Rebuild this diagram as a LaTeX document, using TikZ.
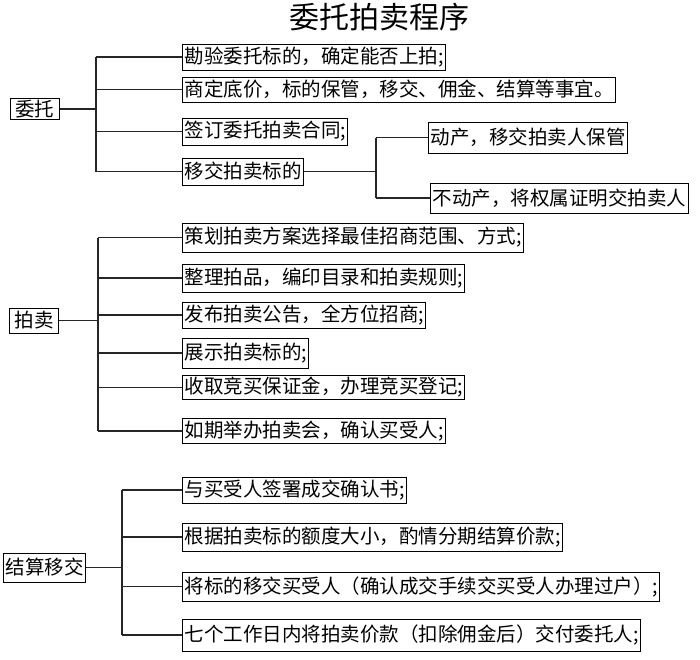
\documentclass[tikz,border=0pt]{standalone}
\usepackage{fontspec}
\setmainfont{Noto Sans CJK SC}
\usetikzlibrary{calc}

\begin{document}
\begin{tikzpicture}[x=1pt, y=-1pt,
    item/.style = {draw, line width=1pt, anchor=west, inner xsep=2pt, inner ysep=0pt,
                   minimum height=27pt, font=\fontsize{19.5}{20}\selectfont},
    head/.style = {draw, line width=1pt, inner xsep=2pt, inner ysep=0pt,
                   minimum width=49pt, font=\fontsize{19.5}{20}\selectfont},
    link/.style = {line width=1.6pt, black!85}]
    \useasboundingbox (0,0) rectangle (700,659);
    % title
    \node (title) at (379,17) {\fontsize{30}{30}\selectfont 委托拍卖程序};
    % 委托
    \node[head, minimum height=21pt] (wt) at (34.5,109) {委托};
    \node[item, minimum height=26pt] (wt1) at (182,57) {勘验委托标的，确定能否上拍;};
    \node[item, minimum height=25pt] (wt2) at (182,89.5) {商定底价，标的保管，移交、佣金、结算等事宜。};
    \node[item] (wt3) at (182,131.5) {签订委托拍卖合同;};
    \node[item] (wt4) at (182,171.5) {移交拍卖标的};
    \node[item, minimum height=31pt] (wt4a) at (428,137.5) {动产，移交拍卖人保管};
    \node[item, minimum height=30pt] (wt4b) at (430,198) {不动产，将权属证明交拍卖人};
    \coordinate (j1) at (96,109);
    \path[draw, link] (wt.east) -- (j1);
    \path[draw, link] (j1 |- wt1.west) -- (j1 |- wt4.west);
    \foreach \n in {wt1,wt2,wt3,wt4}
        \path[draw, link] (j1 |- \n.west) -- (\n.west);
    % 移交拍卖标的
    \coordinate (j4) at (376,171.5);
    \path[draw, link] (wt4.east) -- (j4);
    \path[draw, link] (j4 |- wt4a.west) -- (j4 |- wt4b.west);
    \foreach \n in {wt4a,wt4b}
        \path[draw, link] (j4 |- \n.west) -- (\n.west);
    % 拍卖
    \node[head, minimum height=25pt] (pm) at (34,320.5) {拍卖};
    \node[item, minimum height=29pt] (pm1) at (182,237.5) {策划拍卖方案选择最佳招商范围、方式;};
    \node[item, minimum height=28pt] (pm2) at (182,278) {整理拍品，编印目录和拍卖规则;};
    \node[item, minimum height=26pt] (pm3) at (182,315) {发布拍卖公告，全方位招商;};
    \node[item, minimum height=30pt] (pm4) at (182,353) {展示拍卖标的;};
    \node[item, minimum height=24pt] (pm5) at (182,387.5) {收取竞买保证金，办理竞买登记;};
    \node[item, minimum height=25pt] (pm6) at (182,431) {如期举办拍卖会，确认买受人;};
    \coordinate (j2) at (98,320.5);
    \path[draw, link] (pm.east) -- (j2);
    \path[draw, link] (j2 |- pm1.west) -- (j2 |- pm6.west);
    \foreach \n in {pm1,pm2,pm3,pm4,pm5,pm6}
        \path[draw, link] (j2 |- \n.west) -- (\n.west);
    % 结算移交
    \node[head, minimum height=29pt] (js) at (44.5,567.5) {结算移交};
    \node[item, minimum height=26pt] (js1) at (182,490) {与买受人签署成交确认书;};
    \node[item, minimum height=28pt] (js2) at (182,537) {根据拍卖标的额度大小，酌情分期结算价款;};
    \node[item, minimum height=29pt] (js3) at (182,586.5) {将标的移交买受人（确认成交手续交买受人办理过户）;};
    \node[item, minimum height=32pt] (js4) at (182,635) {七个工作日内将拍卖价款（扣除佣金后）交付委托人;};
    \coordinate (j3) at (122,567.5);
    \path[draw, link] (js.east) -- (j3);
    \path[draw, link] (j3 |- js1.west) -- (j3 |- js4.west);
    \foreach \n in {js1,js2,js3,js4}
        \path[draw, link] (j3 |- \n.west) -- (\n.west);
\end{tikzpicture}
\end{document}
